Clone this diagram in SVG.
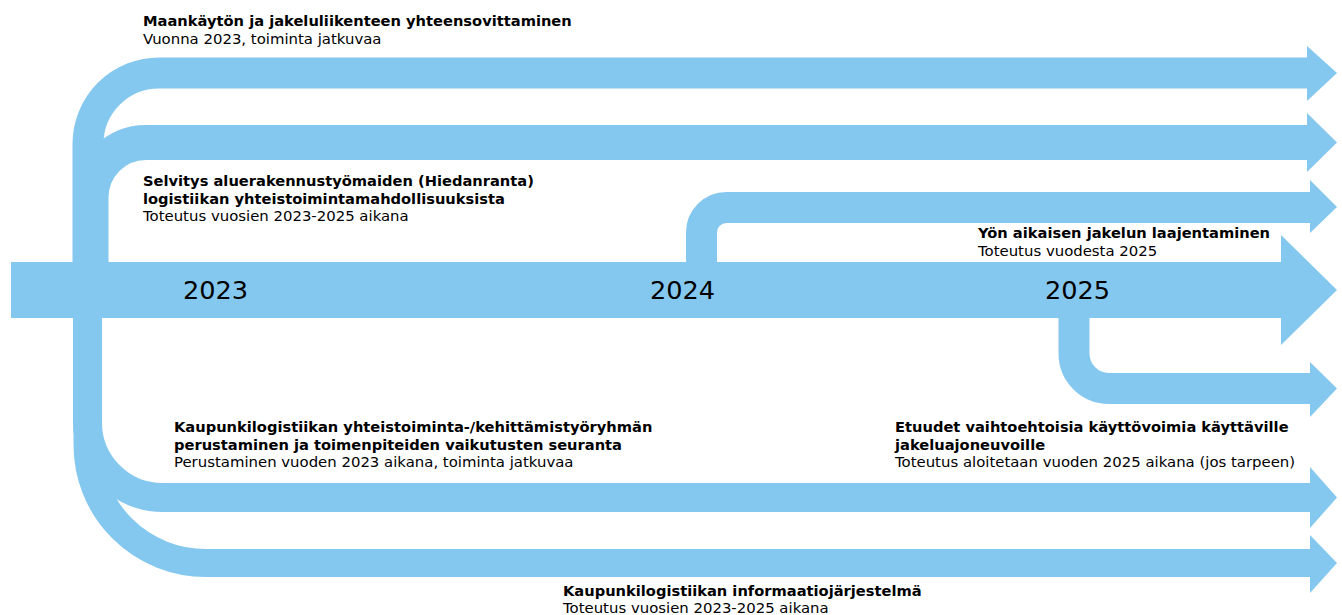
<svg xmlns="http://www.w3.org/2000/svg" width="1342" height="615" viewBox="0 0 1342 615">
<style>
.band{fill:none;stroke:#85C8EF;stroke-linecap:butt;stroke-linejoin:round}
.head{fill:#85C8EF;stroke:none}
text{font-family:Verdana,"DejaVu Sans",sans-serif;fill:#000}
.b{font-size:14.67px;font-weight:bold}
.r{font-size:14.9px}
.yr{font-size:25.6px}
</style>
<rect width="1342" height="615" fill="#fff"/>
<g id="connectors">
  <path class="band" stroke-width="28" d="M87.5 300 V445 A118 118 0 0 0 205.5 563 H1311"/>
  <path class="band" stroke-width="29" d="M87.5 300 V422.5 A75 75 0 0 0 162.5 497.5 H1311"/>
  <path class="band" stroke-width="35" d="M91 280 V197.5 A55 55 0 0 1 146 142.5 H1308"/>
  <path class="band" stroke-width="31" d="M88 280 V144 A71 71 0 0 1 159 73 H1308"/>
  <path class="band" stroke-width="31" d="M701.5 280 V232.5 A25 25 0 0 1 726.5 207.5 H1311"/>
  <path class="band" stroke-width="31" d="M1074 300 V353.5 A35 35 0 0 0 1109 388.5 H1311"/>
  <polygon class="head" points="1307,46 1337,73 1307,101"/>
  <polygon class="head" points="1307,113 1337,142.5 1307,172"/>
  <polygon class="head" points="1310,180 1337,207 1310,233"/>
  <polygon class="head" points="1310,362 1337,388.5 1310,417"/>
  <polygon class="head" points="1310,467 1337,497.5 1310,528"/>
  <polygon class="head" points="1310,535 1337,563 1310,593"/>
  <path class="head" d="M11 262 H1281 V235 L1337 290 L1281 345 V318 H11 Z"/>
</g>
<g id="year-2023"><text class="yr" x="183" y="299">2023</text></g>
<g id="year-2024"><text class="yr" x="650" y="299">2024</text></g>
<g id="year-2025"><text class="yr" x="1045" y="299">2025</text></g>
<g id="node-maankaytto">
  <text class="b" x="143" y="26">Maankäytön ja jakeluliikenteen yhteensovittaminen</text>
  <text class="r" x="143" y="44">Vuonna 2023, toiminta jatkuvaa</text>
</g>
<g id="node-selvitys">
  <text class="b" x="143" y="186">Selvitys aluerakennustyömaiden (Hiedanranta)</text>
  <text class="b" x="143" y="204">logistiikan yhteistoimintamahdollisuuksista</text>
  <text class="r" x="143" y="221">Toteutus vuosien 2023-2025 aikana</text>
</g>
<g id="node-yojakelu">
  <text class="b" x="978" y="238">Yön aikaisen jakelun laajentaminen</text>
  <text class="r" x="978" y="256">Toteutus vuodesta 2025</text>
</g>
<g id="node-yhteistoiminta">
  <text class="b" x="174" y="432">Kaupunkilogistiikan yhteistoiminta-/kehittämistyöryhmän</text>
  <text class="b" x="174" y="450">perustaminen ja toimenpiteiden vaikutusten seuranta</text>
  <text class="r" x="174" y="467">Perustaminen vuoden 2023 aikana, toiminta jatkuvaa</text>
</g>
<g id="node-etuudet">
  <text class="b" x="895" y="432">Etuudet vaihtoehtoisia käyttövoimia käyttäville</text>
  <text class="b" x="895" y="450">jakeluajoneuvoille</text>
  <text class="r" x="895" y="467">Toteutus aloitetaan vuoden 2025 aikana (jos tarpeen)</text>
</g>
<g id="node-informaatio">
  <text class="b" x="563" y="596">Kaupunkilogistiikan informaatiojärjestelmä</text>
  <text class="r" x="563" y="613">Toteutus vuosien 2023-2025 aikana</text>
</g>
</svg>
